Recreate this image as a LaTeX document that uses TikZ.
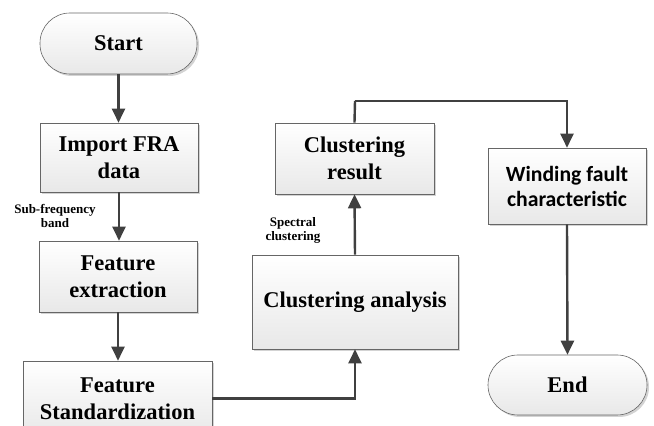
\documentclass[tikz,border=0pt]{standalone}
\usepackage{fontspec}
\setmainfont{Liberation Serif}
\newfontfamily\tnr{Liberation Serif}
\newfontfamily\calib{Carlito}
\usetikzlibrary{arrows.meta,shadows}
\begin{document}
\begin{tikzpicture}[x=1pt,y=1pt,
  boxbase/.style={draw=gray!80!black, line width=0.6pt, top color=white, bottom color=gray!18,
    drop shadow={shadow xshift=2pt, shadow yshift=-2pt, opacity=0.35, fill=gray},
    align=center, inner sep=0pt, font=\tnr\fontsize{22.5}{26.5}\selectfont\bfseries},
  procbox/.style={boxbase, rectangle},
  termbox/.style={boxbase, rectangle, rounded corners=30pt},
  flow/.style={draw=black!75, line width=2.4pt, -{Triangle[width=13pt,length=14pt]}},
  flowline/.style={draw=black!75, line width=2.4pt},
  lbl/.style={align=center, font=\tnr\fontsize{13}{14}\selectfont\bfseries}
]
\useasboundingbox (0,0) rectangle (654,426);
\begin{scope}
\clip (0,0) rectangle (654,426);
\node[termbox, minimum width=157pt, minimum height=61pt] (start) at (118.5,382.5) {Start};
\node[procbox, minimum width=158pt, minimum height=69pt] (imp) at (119,268.5) {Import FRA\\data};
\node[procbox, minimum width=158pt, minimum height=71pt] (fext) at (118,149.5) {Feature\\extraction};
\node[procbox, minimum width=189pt, minimum height=75pt] (fstd) at (117.5,27.5) {Feature\\Standardization};
\node[procbox, minimum width=206pt, minimum height=94pt] (cana) at (355,124) {Clustering analysis};
\node[procbox, minimum width=159pt, minimum height=71pt] (cres) at (354.5,267.5) {Clustering\\result};
\node[procbox, minimum width=158pt, minimum height=76pt, font=\calib\fontsize{21.7}{25}\selectfont\bfseries] (wind) at (567,240) {Winding fault\\characteristic};
\node[termbox, minimum width=159pt, minimum height=60pt] (fin) at (567.5,41) {End};

\node[lbl] (lsub) at (55,210) {Sub-frequency\\band};
\node[lbl] (lspec) at (293,196) {Spectral\\clustering};

\draw[flow] (start.south) -- (start.south |- imp.north);
\draw[flow] (imp.south) -- (imp.south |- fext.north);
\draw[flow] (fext.south) -- (fext.south |- fstd.north);
\draw[flow] (fstd.east) -| (cana.south);
\draw[flow] (cana.north) -- (cres.south);
\coordinate (topline) at (355,325);
\draw[flowline] (cres.north) -- (topline);
\draw[flow] (topline) -| (wind.north);
\draw[flow] (wind.south) -- (fin.north);
\end{scope}
\end{tikzpicture}
\end{document}
